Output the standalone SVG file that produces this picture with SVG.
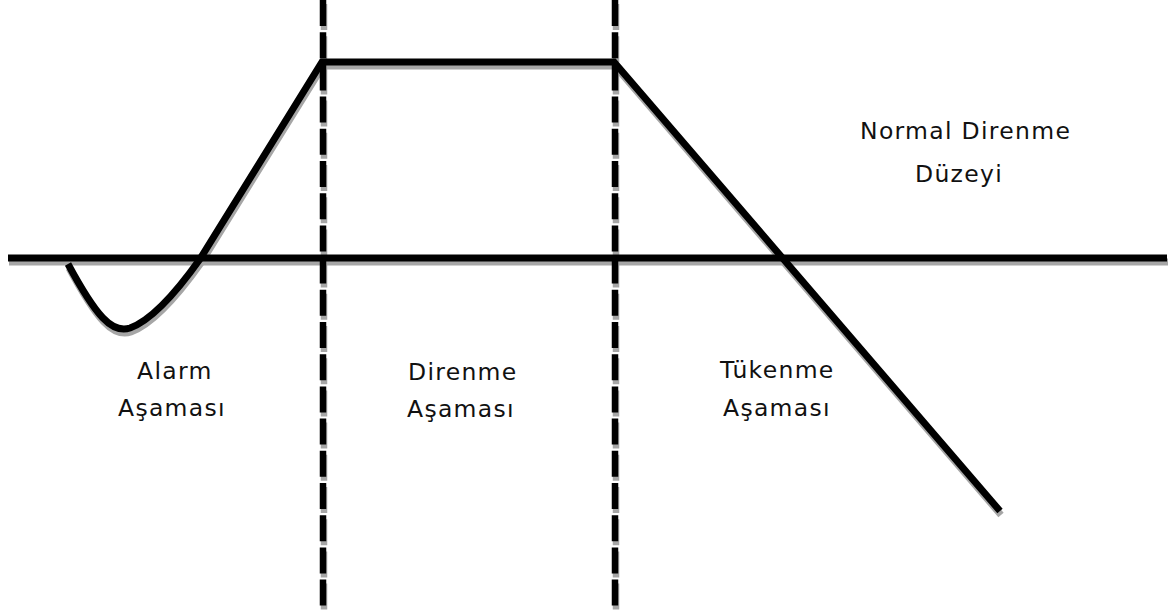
<svg xmlns="http://www.w3.org/2000/svg" xmlns:xlink="http://www.w3.org/1999/xlink" width="1176" height="610" viewBox="0 0 1176 610">
  <style>
    .ln { fill: none; stroke: #000; stroke-width: 7; stroke-linejoin: miter; }
    .dash { stroke-dasharray: 26 6.2; stroke-width: 6.5; }
    .sh { stroke: #a6a6a6; }
    .lbl { font-family: "DejaVu Sans", Verdana, sans-serif; font-size: 23.5px; letter-spacing: 1.3px; fill: #111; }
  </style>
  <defs>
    <path id="base" d="M8,258 L1167,258"/>
    <path id="v1" d="M323,0 L323,610"/>
    <path id="v2" d="M615,0 L615,610"/>
    <path id="curve" d="M68,264 C96,316 112,334 130,328 C152,320 178,290 200,259 L322,62 L614,62 L1000,511"/>
  </defs>
  <rect width="1176" height="610" fill="#fff"/>
  <g id="connectors">
    <g id="shadows" transform="translate(1,4)">
      <use xlink:href="#base" class="ln sh"/>
      <use xlink:href="#v1" class="ln dash sh"/>
      <use xlink:href="#v2" class="ln dash sh"/>
      <use xlink:href="#curve" class="ln sh"/>
    </g>
    <use xlink:href="#base" class="ln"/>
    <use xlink:href="#v1" class="ln dash"/>
    <use xlink:href="#v2" class="ln dash"/>
    <use xlink:href="#curve" class="ln"/>
  </g>
  <g id="normal-level">
    <text class="lbl" x="860" y="139">Normal Direnme</text>
    <text class="lbl" x="915" y="182">Düzeyi</text>
  </g>
  <g id="alarm">
    <text class="lbl" x="137" y="379">Alarm</text>
    <text class="lbl" x="118" y="416">Aşaması</text>
  </g>
  <g id="direnme">
    <text class="lbl" x="408" y="380">Direnme</text>
    <text class="lbl" x="407" y="417">Aşaması</text>
  </g>
  <g id="tukenme">
    <text class="lbl" x="720" y="378">Tükenme</text>
    <text class="lbl" x="723" y="416">Aşaması</text>
  </g>
</svg>
